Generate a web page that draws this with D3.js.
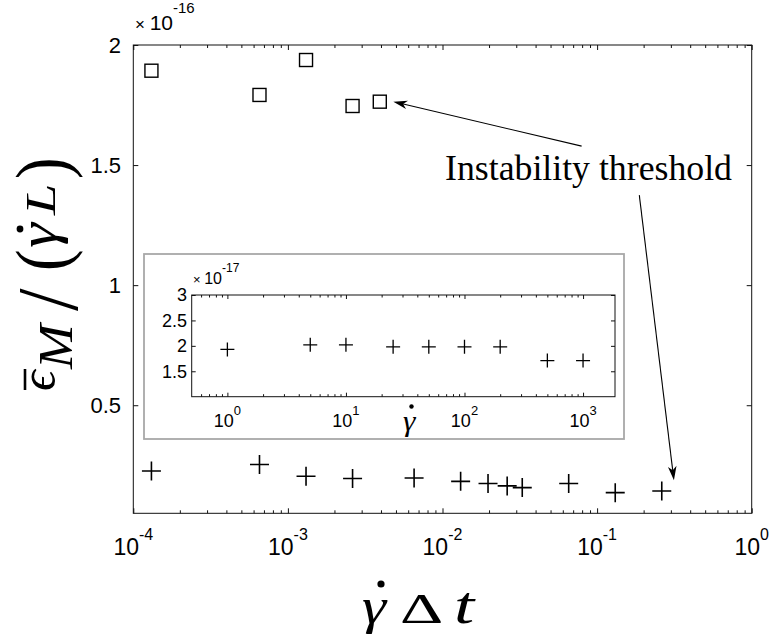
<!DOCTYPE html>
<html><head><meta charset="utf-8">
<script src="https://cdn.jsdelivr.net/npm/d3@7"></script>
<style>
html,body{margin:0;padding:0;background:#fff;}
svg{display:block;}
</style></head>
<body>
<svg id="c" width="770" height="642"></svg>
<script>
// ---------- DATA ----------
const crossX = [1.31e-4, 6.55e-4, 1.31e-3, 2.62e-3, 6.55e-3, 1.31e-2, 1.97e-2, 2.62e-2, 3.28e-2, 6.55e-2, 0.131, 0.262];
const crossY = [0.226, 0.253, 0.204, 0.195, 0.197, 0.183, 0.174, 0.164, 0.157, 0.174, 0.136, 0.143]; // x1e-16
const squareX = [1.31e-4, 6.55e-4, 1.31e-3, 2.62e-3, 3.93e-3];
const squareY = [1.893, 1.792, 1.9375, 1.746, 1.764]; // x1e-16
const insetX = [1, 5, 10, 25, 50, 100, 200, 500, 1000];
const insetY = [1.93, 2.02, 2.02, 1.98, 1.98, 1.98, 1.98, 1.71, 1.71]; // x1e-17
const mainXTicks = [1e-4, 1e-3, 1e-2, 1e-1, 1];
const mainXTickExp = ["-4", "-3", "-2", "-1", "0"];
const mainYTicks = [0.5, 1, 1.5, 2];
const mainYTickLabels = ["0.5", "1", "1.5", "2"];
const insetXTicks = [1, 10, 100, 1000];
const insetXTickExp = ["0", "1", "2", "3"];
const insetYTicks = [1.5, 2, 2.5, 3];
const insetYTickLabels = ["1.5", "2", "2.5", "3"];
const annotationText = "Instability threshold";
const annotationPos = [0.01038, 1.4375];
const arrows = [
  {from: [0.0794, 1.579], to: [0.00481, 1.764]},
  {from: [0.1875, 1.375], to: [0.314, 0.1875]}
];

// ---------- SETUP ----------
const svg = d3.select("#c");
const sans = "'Liberation Sans', Arial, Helvetica, sans-serif";
const serif = "'Liberation Serif', 'Times New Roman', serif";

function minorTicks(lo, hi) {
  const out = [];
  for (let e = Math.floor(Math.log10(lo)) - 1; e <= Math.ceil(Math.log10(hi)); e++) {
    for (let m = 2; m <= 9; m++) {
      const v = m * Math.pow(10, e);
      if (v > lo * 1.0001 && v < hi * 0.9999) out.push(v);
    }
  }
  return out;
}

// ---------- MAIN AXES ----------
const M = {l: 133.3, r: 751.7, t: 45, b: 513.3};
const x = d3.scaleLog().domain([1e-4, 1]).range([M.l, M.r]);
const y = d3.scaleLinear().domain([0.05, 2]).range([M.b, M.t]);

const gMain = svg.append("g");
gMain.append("rect").attr("x", M.l).attr("y", M.t).attr("width", M.r - M.l).attr("height", M.b - M.t)
  .attr("fill", "#fff").attr("stroke", "#111").attr("stroke-width", 1);

function drawTicks(g, xs, ys, box, xMinor, xMaj, yMaj, majLen, minLen) {
  const mk = (tr, axis) => g.append("g").attr("transform", tr).call(axis).call(a => a.select(".domain").remove());
  mk(`translate(0,${box.b})`, d3.axisBottom(xs).tickValues(xMaj).tickSizeInner(-majLen).tickSizeOuter(0).tickFormat(""));
  mk(`translate(0,${box.b})`, d3.axisBottom(xs).tickValues(xMinor).tickSizeInner(-minLen).tickSizeOuter(0).tickFormat(""));
  mk(`translate(0,${box.t})`, d3.axisTop(xs).tickValues(xMaj).tickSizeInner(-majLen).tickSizeOuter(0).tickFormat(""));
  mk(`translate(0,${box.t})`, d3.axisTop(xs).tickValues(xMinor).tickSizeInner(-minLen).tickSizeOuter(0).tickFormat(""));
  mk(`translate(${box.l},0)`, d3.axisLeft(ys).tickValues(yMaj).tickSizeInner(-majLen).tickSizeOuter(0).tickFormat(""));
  mk(`translate(${box.r},0)`, d3.axisRight(ys).tickValues(yMaj).tickSizeInner(-majLen).tickSizeOuter(0).tickFormat(""));
  g.selectAll(".tick line").attr("stroke", "#111").attr("stroke-width", 1);
}
drawTicks(gMain, x, y, M, minorTicks(1e-4, 1), mainXTicks, mainYTicks, 5, 3);

mainXTicks.forEach((v, i) => {
  const t = gMain.append("text").attr("x", x(v)).attr("y", 555)
    .attr("text-anchor", "middle").attr("font-family", sans).attr("font-size", 23).attr("fill", "#000");
  t.append("tspan").text("10");
  t.append("tspan").attr("font-size", 16).attr("dy", -15).text(mainXTickExp[i]);
});
mainYTicks.forEach((v, i) => {
  gMain.append("text").attr("x", 121).attr("y", y(v)).attr("dy", "0.36em")
    .attr("text-anchor", "end").attr("font-family", sans).attr("font-size", 22).attr("fill", "#000")
    .text(mainYTickLabels[i]);
});
{
  const t = gMain.append("text").attr("x", 135).attr("y", 30).attr("font-family", sans).attr("font-size", 21).attr("fill", "#000");
  t.append("tspan").attr("font-size", 17).text("× ");
  t.append("tspan").text("10");
  t.append("tspan").attr("font-size", 15).attr("dy", -17).text("-16");
}

const sq = 13;
gMain.selectAll("rect.sq").data(squareX).join("rect").attr("class", "sq")
  .attr("x", (d) => x(d) - sq / 2).attr("y", (d, i) => y(squareY[i]) - sq / 2)
  .attr("width", sq).attr("height", sq).attr("fill", "none").attr("stroke", "#000").attr("stroke-width", 1.4);
const cs = 9.5;
gMain.selectAll("path.cr").data(crossX).join("path").attr("class", "cr")
  .attr("d", (d, i) => {
    const cx = x(d), cy = y(crossY[i]);
    return `M${cx - cs},${cy}H${cx + cs}M${cx},${cy - cs}V${cy + cs}`;
  }).attr("stroke", "#000").attr("stroke-width", 1.6).attr("fill", "none");

// ---------- INSET ----------
const IB = {l: 144, r: 624, t: 254, b: 439};
svg.append("rect").attr("x", IB.l).attr("y", IB.t).attr("width", IB.r - IB.l).attr("height", IB.b - IB.t)
  .attr("fill", "#fff").attr("stroke", "#a8a8a8").attr("stroke-width", 1.8);
const I = {l: 191.7, r: 615, t: 295, b: 396.7};
const xi = d3.scaleLog().domain([0.5, 1860]).range([I.l, I.r]);
const yi = d3.scaleLinear().domain([1, 3]).range([I.b, I.t]);
const gIn = svg.append("g");
gIn.append("rect").attr("x", I.l).attr("y", I.t).attr("width", I.r - I.l).attr("height", I.b - I.t)
  .attr("fill", "#fff").attr("stroke", "#111").attr("stroke-width", 1);
drawTicks(gIn, xi, yi, I, minorTicks(0.5, 1860), insetXTicks, insetYTicks, 4, 2.5);

insetXTicks.forEach((v, i) => {
  const t = gIn.append("text").attr("x", xi(v)).attr("y", 427)
    .attr("text-anchor", "middle").attr("font-family", sans).attr("font-size", 18).attr("fill", "#000");
  t.append("tspan").text("10");
  t.append("tspan").attr("font-size", 13).attr("dy", -12).text(insetXTickExp[i]);
});
insetYTicks.forEach((v, i) => {
  gIn.append("text").attr("x", 187).attr("y", yi(v)).attr("dy", "0.36em")
    .attr("text-anchor", "end").attr("font-family", sans).attr("font-size", 18).attr("fill", "#000")
    .text(insetYTickLabels[i]);
});
{
  const t = gIn.append("text").attr("x", 193).attr("y", 284).attr("font-family", sans).attr("font-size", 16).attr("fill", "#000");
  t.append("tspan").attr("font-size", 13).text("× ");
  t.append("tspan").text("10");
  t.append("tspan").attr("font-size", 12).attr("dy", -12).text("-17");
}

const ics = 7;
gIn.selectAll("path.icr").data(insetX).join("path").attr("class", "icr")
  .attr("d", (d, i) => {
    const cx = xi(d), cy = yi(insetY[i]);
    return `M${cx - ics},${cy}H${cx + ics}M${cx},${cy - ics}V${cy + ics}`;
  }).attr("stroke", "#000").attr("stroke-width", 1.3).attr("fill", "none");

// glyph helper for math labels
function glyph(parent, s, o) {
  return parent.append("text")
    .attr("transform", `translate(${o.x},${o.y}) rotate(${o.rot || 0}) scale(${o.sx || 1},${o.sy || 1})`)
    .attr("font-family", serif).attr("font-size", o.fs).attr("font-style", o.italic ? "italic" : "normal")
    .attr("fill", "#000").text(s);
}
glyph(gIn, "γ", {x: 403, y: 431, fs: 30, italic: true, sx: 1.05});
gIn.append("circle").attr("cx", 411.5).attr("cy", 406.5).attr("r", 2.2).attr("fill", "#000");

// ---------- ANNOTATION ----------
svg.append("text").attr("x", x(annotationPos[0])).attr("y", y(annotationPos[1]))
  .attr("font-family", serif).attr("font-size", 35).attr("textLength", 287).attr("lengthAdjust", "spacingAndGlyphs")
  .attr("fill", "#000").text(annotationText);
arrows.forEach(a => {
  const x0 = x(a.from[0]), y0 = y(a.from[1]), x1 = x(a.to[0]), y1 = y(a.to[1]);
  const ang = Math.atan2(y1 - y0, x1 - x0);
  svg.append("line").attr("x1", x0).attr("y1", y0).attr("x2", x1 - 8 * Math.cos(ang)).attr("y2", y1 - 8 * Math.sin(ang))
    .attr("stroke", "#000").attr("stroke-width", 1.1);
  svg.append("path").attr("d", "M0,0L-14,-4.3L-10,0L-14,4.3Z")
    .attr("transform", `translate(${x1},${y1}) rotate(${ang * 180 / Math.PI})`).attr("fill", "#000");
});

// ---------- AXIS LABELS ----------
const gx = svg.append("g");
glyph(gx, "γ", {x: 362, y: 623, fs: 51, italic: true, sx: 1.2});
gx.append("circle").attr("cx", 381).attr("cy", 584).attr("r", 3.6).attr("fill", "#000");
glyph(gx, "Δ", {x: 400, y: 623, fs: 42, sx: 1.6});
glyph(gx, "t", {x: 454, y: 623, fs: 52, italic: true, sx: 1.4});

const gy = svg.append("g");
glyph(gy, "ϵ", {x: 55, y: 391, fs: 51, italic: true, rot: -90});
gy.append("line").attr("x1", 25).attr("x2", 25).attr("y1", 369).attr("y2", 390).attr("stroke", "#000").attr("stroke-width", 2.6);
glyph(gy, "M", {x: 72, y: 369, fs: 48, italic: true, rot: -90, sx: 1.12});
glyph(gy, "/", {x: 77, y: 311, fs: 58, rot: -90, sx: 1.4, sy: 1.48});
glyph(gy, "(", {x: 67, y: 271, fs: 50, rot: -90, sx: 1.3, sy: 1.5});
glyph(gy, "γ", {x: 56, y: 248, fs: 55, italic: true, rot: -90, sx: 1.15});
gy.append("circle").attr("cx", 20).attr("cy", 229).attr("r", 3.4).attr("fill", "#000");
glyph(gy, "L", {x: 55, y: 215, fs: 42, italic: true, rot: -90, sx: 1.35});
glyph(gy, ")", {x: 67, y: 179, fs: 50, rot: -90, sx: 1.3, sy: 1.5});
</script>
</body></html>
